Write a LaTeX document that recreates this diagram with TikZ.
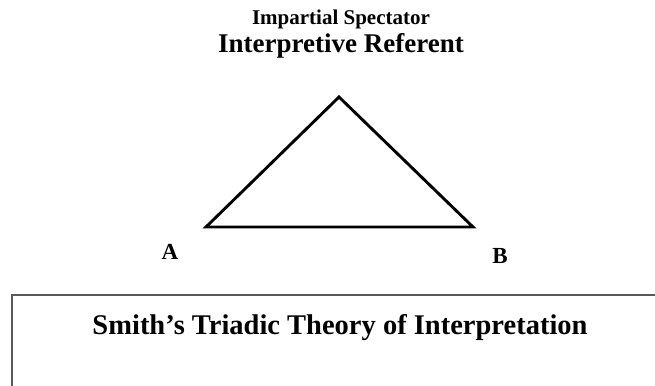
\documentclass[tikz,border=0pt]{standalone}
\usepackage{fontspec}
\setmainfont{Liberation Serif}
\begin{document}
\begin{tikzpicture}[x=1pt,y=-1pt,
  lbl/.style={font=\bfseries, inner sep=0pt, anchor=base},
  tri/.style={draw=black, line width=2.9pt, line join=miter},
  frame/.style={draw=black!65, line width=2pt}]
\useasboundingbox (0,0) rectangle (655,385);
\fill[white] (0,0) rectangle (655,385);
\node[lbl, font=\bfseries\fontsize{21}{21}\selectfont] (spec) at (341,25) {Impartial Spectator};
\node[lbl, font=\bfseries\fontsize{27}{27}\selectfont] (ref) at (341,53) {Interpretive Referent};
\coordinate (top) at (339,97);
\coordinate (left) at (206,227);
\coordinate (right) at (473,227);
\draw[tri] (top) -- (right) -- (left) -- cycle;
\node[lbl, font=\bfseries\fontsize{23}{23}\selectfont] (a) at (170,259) {A};
\node[lbl, font=\bfseries\fontsize{23}{23}\selectfont] (b) at (500,263) {B};
\coordinate (bl) at (12,390);
\coordinate (tl) at (12,295);
\coordinate (tr) at (660,295);
\draw[frame] (bl) -- (tl) -- (tr);
\node[lbl, font=\bfseries\fontsize{28.5}{28.5}\selectfont] (title) at (340,334) {Smith’s Triadic Theory of Interpretation};
\end{tikzpicture}
\end{document}
